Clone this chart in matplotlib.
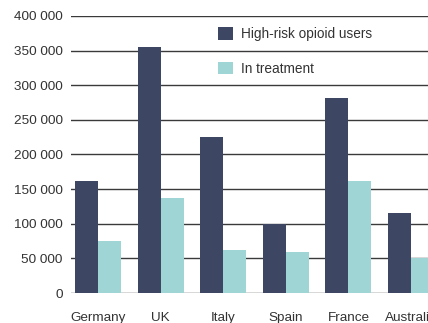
import numpy as np
import matplotlib.pyplot as plt

countries = ['Germany', 'UK', 'Italy', 'Spain', 'France', 'Australia']
high_risk = [162000, 355000, 225000, 100000, 282000, 115500]
in_treatment = [75000, 137000, 62000, 59000, 162000, 50500]
yticks = [0, 50000, 100000, 150000, 200000, 250000, 300000, 350000, 400000]
ylabels = ['0', '50 000', '100 000', '150 000', '200 000', '250 000',
           '300 000', '350 000', '400 000']

dark = '#3d4663'
light = '#a0d5d6'

plt.rcParams['font.family'] = ['Liberation Sans', 'DejaVu Sans']

fig = plt.figure(figsize=(4.28, 3.23), dpi=100)
ax = fig.add_axes([71/428, 30/323, (438-71)/428, 277/323])

x = np.arange(len(countries))
w = 0.367
ax.bar(x - w/2, high_risk, w, color=dark, label='High-risk opioid users', zorder=3)
ax.bar(x + w/2, in_treatment, w, color=light, label='In treatment', zorder=3)

ax.set_xlim(-0.43, 5.43)
ax.set_ylim(0, 400000)
ax.set_yticks(yticks)
ax.set_yticklabels(ylabels)
ax.set_xticks(x)
ax.set_xticklabels(countries)
ax.tick_params(axis='both', length=0, labelsize=9.7, colors='#333333')
ax.tick_params(axis='y', pad=6)
ax.tick_params(axis='x', pad=14)
ax.yaxis.grid(True, color='#3a3a3a', linewidth=1.0, zorder=0)
ax.set_axisbelow(True)
for s in ax.spines.values():
    s.set_visible(False)

ax.legend(loc='upper left', bbox_to_anchor=(206/428, 1 - 15/323),
          bbox_transform=fig.transFigure, frameon=False, fontsize=9.8,
          handlelength=1.05, handleheight=1.05, handletextpad=0.6,
          labelspacing=1.5, labelcolor='#333333')

fig.savefig('out.png', dpi=100)
